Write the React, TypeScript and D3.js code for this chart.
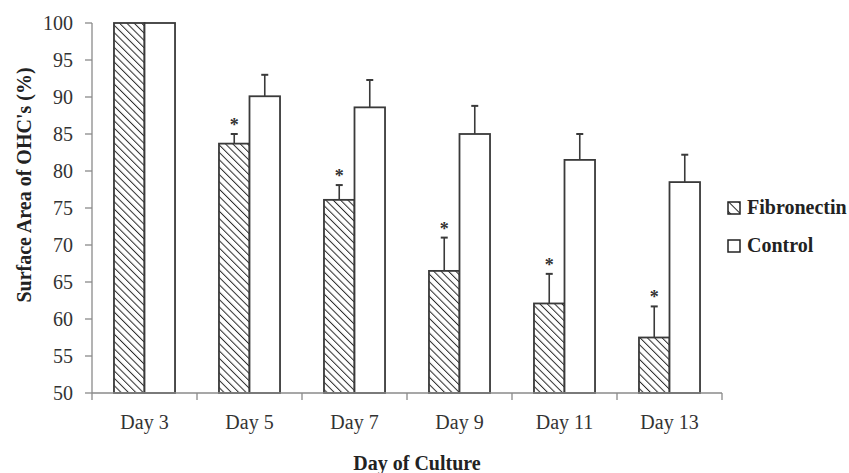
import React from "react";
import * as d3 from "d3";

const days = ["Day 3", "Day 5", "Day 7", "Day 9", "Day 11", "Day 13"];
const series = ["Fibronectin", "Control"];
const fibronectin = [100, 83.7, 76.1, 66.5, 62.1, 57.5];
const fibronectinErr = [0, 1.3, 2.0, 4.5, 4.0, 4.2];
const control = [100, 90.1, 88.6, 85.0, 81.5, 78.5];
const controlErr = [0, 2.9, 3.7, 3.8, 3.5, 3.7];
const significant = [false, true, true, true, true, true];
const yTicks = [50, 55, 60, 65, 70, 75, 80, 85, 90, 95, 100];

const W = 849;
const H = 473;
const left = 92;
const right = 722;
const top = 23;
const bottom = 393;

export default function App() {
  const x = d3.scaleBand<string>().domain(days).range([left, right]).padding(0);
  const xi = d3
    .scaleBand<string>()
    .domain(series)
    .range([0, x.bandwidth()])
    .paddingInner(0)
    .paddingOuter(0.72);
  const y = d3.scaleLinear().domain([50, 100]).range([bottom, top]);
  const bw = xi.bandwidth();
  const axisColor = "#8a8a8a";
  const barStroke = "#3a3a3a";
  const font = "'Liberation Serif', 'Times New Roman', serif";

  const data = series.map((s, si) => ({
    name: s,
    values: si === 0 ? fibronectin : control,
    errs: si === 0 ? fibronectinErr : controlErr,
  }));

  return (
    <svg width={W} height={H} style={{ position: "absolute", left: 0, top: 0, background: "#fff" }}>
      <defs>
        <pattern id="hatch" patternUnits="userSpaceOnUse" width="5.2" height="5.2" patternTransform="rotate(-45)">
          <rect width="5.2" height="5.2" fill="#fff" />
          <line x1="0" y1="0" x2="0" y2="5.2" stroke="#2a2a2a" strokeWidth="2" />
        </pattern>
        <pattern id="hatchLegend" patternUnits="userSpaceOnUse" width="7" height="7" patternTransform="rotate(-45)">
          <rect width="7" height="7" fill="#fff" />
          <line x1="0" y1="0" x2="0" y2="7" stroke="#2a2a2a" strokeWidth="2" />
        </pattern>
      </defs>
      <rect width={W} height={H} fill="#fff" />

      {/* Y axis */}
      <line x1={left} x2={left} y1={y(100)} y2={y(50)} stroke={axisColor} strokeWidth={1.3} />
      {yTicks.map((t) => (
        <g key={t}>
          <line x1={left - 7} x2={left} y1={y(t)} y2={y(t)} stroke={axisColor} strokeWidth={1.3} />
          <text
            x={73}
            y={y(t)}
            textAnchor="end"
            dominantBaseline="central"
            fontFamily={font}
            fontSize={20}
            fill="#333"
          >
            {t}
          </text>
        </g>
      ))}

      {/* Bars */}
      {days.map((d, di) => (
        <g key={d}>
          {data.map((s, si) => {
            const bx = (x(d) as number) + (xi(s.name) as number);
            const v = s.values[di];
            const e = s.errs[di];
            const cx = bx + bw / 2;
            return (
              <g key={s.name}>
                {e > 0 && (
                  <g stroke={barStroke} strokeWidth={1.6}>
                    <line x1={cx} x2={cx} y1={y(v)} y2={y(v + e)} />
                    <line x1={cx - 3.5} x2={cx + 3.5} y1={y(v + e)} y2={y(v + e)} strokeWidth={2} />
                  </g>
                )}
                <rect
                  x={bx}
                  y={y(v)}
                  width={bw}
                  height={y(50) - y(v)}
                  fill={si === 0 ? "url(#hatch)" : "#fff"}
                  stroke={barStroke}
                  strokeWidth={1.8}
                />
                {si === 0 && significant[di] && (
                  <text
                    x={cx}
                    y={y(v + e) - 3}
                    textAnchor="middle"
                    fontFamily={font}
                    fontSize={18}
                    fontWeight="bold"
                    fill="#333"
                  >
                    *
                  </text>
                )}
              </g>
            );
          })}
        </g>
      ))}

      {/* X axis */}
      <line x1={left} x2={right} y1={bottom} y2={bottom} stroke={axisColor} strokeWidth={1.3} />
      {[...days.map((d) => x(d) as number), right].map((px, i) => (
        <line key={i} x1={px} x2={px} y1={bottom} y2={bottom + 7} stroke={axisColor} strokeWidth={1.3} />
      ))}
      {days.map((d) => (
        <text
          key={d}
          x={(x(d) as number) + x.bandwidth() / 2}
          y={429}
          textAnchor="middle"
          fontFamily={font}
          fontSize={20}
          fill="#333"
        >
          {d}
        </text>
      ))}

      {/* Axis titles */}
      <text
        x={(left + right) / 2 + 10}
        y={470}
        textAnchor="middle"
        fontFamily={font}
        fontSize={20}
        fontWeight="bold"
        fill="#222"
      >
        Day of Culture
      </text>
      <text
        transform={`translate(31, ${185}) rotate(-90)`}
        textAnchor="middle"
        fontFamily={font}
        fontSize={20}
        fontWeight="bold"
        fill="#222"
      >
        Surface Area of OHC's (%)
      </text>

      {/* Legend */}
      {series.map((s, i) => (
        <g key={s} transform={`translate(728, ${202 + i * 38})`}>
          <rect
            x={0}
            y={0}
            width={12}
            height={12}
            fill={i === 0 ? "url(#hatchLegend)" : "#fff"}
            stroke="#222"
            strokeWidth={1.5}
          />
          <text x={19} y={12} fontFamily={font} fontSize={20} fontWeight="bold" fill="#222">
            {s}
          </text>
        </g>
      ))}
    </svg>
  );
}
